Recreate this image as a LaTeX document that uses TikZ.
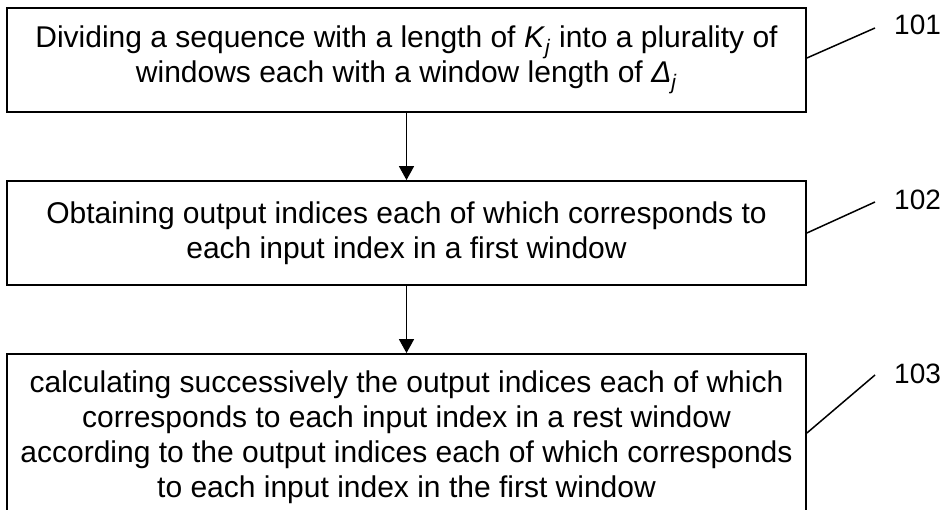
\documentclass[tikz,border=0pt]{standalone}
\usepackage{fontspec}
\setmainfont{Liberation Sans}
\usetikzlibrary{arrows.meta}
\tikzset{
  stepbox/.style={draw, line width=1.8pt, minimum width=799pt, align=center, inner sep=0pt,
    font=\fontsize{30}{35}\selectfont},
  flow/.style={line width=1.5pt, -{Triangle[width=15pt,length=14pt]}},
  leader/.style={line width=1.5pt},
  reflabel/.style={font=\fontsize{28}{30}\selectfont, inner sep=0pt}
}
\begin{document}
\begin{tikzpicture}[x=1pt,y=-1pt]
\useasboundingbox (0,0) rectangle (944,510);
\node[stepbox, minimum height=104pt] (b1) at (406.5,60)
  {Dividing a sequence with a length of \textit{K}\textsubscript{\textit{j}} into a plurality of\\
   windows each with a window length of \textit{Δ}\textsubscript{\textit{j}}};
\node[stepbox, minimum height=104pt] (b2) at (406.5,233)
  {Obtaining output indices each of which corresponds to\\
   each input index in a first window};
\node[stepbox, minimum height=166pt] (b3) at (406.5,437)
  {calculating successively the output indices each of which\\
   corresponds to each input index in a rest window\\
   according to the output indices each of which corresponds\\
   to each input index in the first window};
\draw[flow] (b1.south) -- (b2.north);
\draw[flow] (b2.south) -- (b3.north);
\coordinate (e1) at (875,28);
\coordinate (e2) at (875,202);
\coordinate (e3) at (875,375);
\draw[leader] (b1.east |- 0,58) -- (e1);
\draw[leader] (b2.east |- 0,233) -- (e2);
\draw[leader] (b3.east |- 0,433) -- (e3);
\node[reflabel, anchor=west] (l1) at (894,25) {101};
\node[reflabel, anchor=west] (l2) at (894,200) {102};
\node[reflabel, anchor=west] (l3) at (894,374) {103};
\end{tikzpicture}
\end{document}
